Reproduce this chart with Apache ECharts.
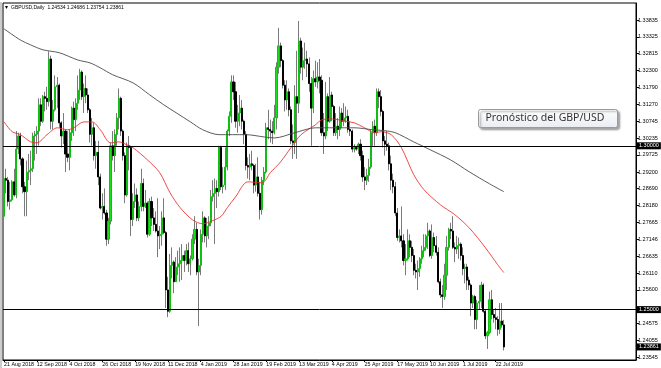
<!DOCTYPE html>
<html>
<head>
<meta charset="utf-8">
<script src="https://cdn.jsdelivr.net/npm/echarts@6/dist/echarts.min.js"></script>
<style>
html,body{margin:0;padding:0;background:#fff;}
#chart{width:661px;height:368px;}
</style>
</head>
<body>
<div id="chart"></div>
<script>
// ---- Data ----
const symbolName = 'GBPUSD,Daily';
const annotationText = 'Pronóstico del GBP/USD';
const dateLabels = ['21 Aug 2018','12 Sep 2018','4 Oct 2018','26 Oct 2018','19 Nov 2018','11 Dec 2018','4 Jan 2019','28 Jan 2019','19 Feb 2019','13 Mar 2019','4 Apr 2019','25 Apr 2019','17 May 2019','10 Jun 2019','1 Jul 2019','22 Jul 2019'];
const priceTicks = [1.33835,1.33325,1.32815,1.32300,1.31790,1.31270,1.30745,1.30235,1.29725,1.29200,1.28690,1.28180,1.27665,1.27146,1.26635,1.26110,1.25600,1.24575,1.24055,1.23545];
const levelLines = [1.30000, 1.25000];
// daily bars: [open, high, low, close]
const bars = [
[1.2785,1.2905,1.2775,1.2900],[1.2900,1.2930,1.2855,1.2895],[1.2895,1.2905,1.2815,1.2830],[1.2830,1.2890,1.2805,1.2835],
[1.2835,1.2895,1.2830,1.2890],[1.2890,1.2930,1.2845,1.2850],[1.2850,1.3045,1.2840,1.2990],[1.2990,1.3040,1.2975,1.3030],
[1.3030,1.3040,1.2940,1.2960],[1.2960,1.2965,1.2855,1.2875],[1.2875,1.2890,1.2785,1.2860],[1.2860,1.2955,1.2785,1.2920],
[1.2920,1.2975,1.2895,1.2925],[1.2925,1.2985,1.2880,1.2930],[1.2930,1.3040,1.2920,1.3030],[1.3030,1.3045,1.2955,1.3035],
[1.3035,1.3060,1.2975,1.3045],[1.3045,1.3145,1.3000,1.3125],[1.3125,1.3145,1.3060,1.3075],[1.3075,1.3155,1.3070,1.3150],
[1.3150,1.3165,1.3105,1.3145],[1.3145,1.3180,1.3110,1.3135],[1.3135,1.3288,1.3120,1.3265],[1.3265,1.3275,1.3050,1.3075],
[1.3075,1.3140,1.3050,1.3110],[1.3110,1.3215,1.3105,1.3180],[1.3180,1.3210,1.3115,1.3185],[1.3185,1.3190,1.3055,1.3070],
[1.3070,1.3075,1.2995,1.3030],[1.3030,1.3100,1.3005,1.3045],[1.3045,1.3050,1.2920,1.2975],[1.2975,1.3045,1.2950,1.2965],
[1.2965,1.3050,1.2925,1.3040],[1.3040,1.3120,1.3015,1.3115],[1.3115,1.3135,1.3030,1.3080],[1.3080,1.3145,1.3045,1.3130],
[1.3130,1.3215,1.3110,1.3170],[1.3170,1.3235,1.3140,1.3225],[1.3225,1.3230,1.3140,1.3150],[1.3150,1.3190,1.3100,1.3175],
[1.3175,1.3215,1.3130,1.3155],[1.3155,1.3175,1.3100,1.3110],[1.3110,1.3115,1.3010,1.3035],[1.3035,1.3085,1.3000,1.3055],
[1.3055,1.3070,1.2955,1.2970],[1.2970,1.3015,1.2930,1.2980],[1.2980,1.3015,1.2880,1.2905],[1.2905,1.2915,1.2805,1.2810],
[1.2810,1.2855,1.2775,1.2815],[1.2815,1.2870,1.2790,1.2795],[1.2795,1.2805,1.2695,1.2715],[1.2715,1.2780,1.2700,1.2770],
[1.2770,1.3010,1.2760,1.3000],[1.3000,1.3045,1.2955,1.2970],[1.2970,1.3050,1.2920,1.3035],[1.3035,1.3100,1.3000,1.3085],
[1.3085,1.3175,1.3050,1.3145],[1.3145,1.3150,1.3030,1.3045],[1.3045,1.3050,1.2955,1.2970],[1.2970,1.2980,1.2825,1.2850],
[1.2850,1.3010,1.2845,1.3000],[1.3000,1.3030,1.2925,1.2995],[1.2995,1.3000,1.2725,1.2775],[1.2775,1.2855,1.2755,1.2830],
[1.2830,1.2885,1.2810,1.2850],[1.2850,1.2870,1.2770,1.2780],[1.2780,1.2830,1.2770,1.2815],[1.2815,1.2930,1.2800,1.2885],
[1.2885,1.2900,1.2800,1.2815],[1.2815,1.2865,1.2810,1.2825],[1.2825,1.2830,1.2720,1.2730],[1.2730,1.2840,1.2725,1.2830],
[1.2830,1.2845,1.2755,1.2780],[1.2780,1.2810,1.2740,1.2760],[1.2760,1.2800,1.2735,1.2740],[1.2740,1.2840,1.2660,1.2725],
[1.2725,1.2755,1.2685,1.2730],[1.2730,1.2800,1.2695,1.2780],[1.2780,1.2840,1.2730,1.2735],[1.2735,1.2740,1.2505,1.2560],
[1.2560,1.2600,1.2477,1.2495],[1.2495,1.2670,1.2490,1.2635],[1.2635,1.2690,1.2595,1.2645],[1.2645,1.2650,1.2550,1.2585],
[1.2585,1.2660,1.2585,1.2630],[1.2630,1.2680,1.2605,1.2640],[1.2640,1.2690,1.2585,1.2650],[1.2650,1.2700,1.2590,1.2665],
[1.2665,1.2680,1.2615,1.2650],[1.2650,1.2700,1.2635,1.2680],[1.2680,1.2705,1.2615,1.2640],[1.2640,1.2665,1.2605,1.2655],
[1.2655,1.2730,1.2650,1.2715],[1.2715,1.2785,1.2700,1.2745],[1.2745,1.2765,1.2605,1.2615],[1.2615,1.2655,1.2450,1.2635],
[1.2635,1.2745,1.2605,1.2730],[1.2730,1.2800,1.2705,1.2780],[1.2780,1.2785,1.2705,1.2725],[1.2725,1.2780,1.2690,1.2755],
[1.2755,1.2785,1.2715,1.2765],[1.2765,1.2865,1.2755,1.2845],[1.2845,1.2895,1.2830,1.2855],[1.2855,1.2900,1.2700,1.2870],
[1.2870,1.2895,1.2810,1.2860],[1.2860,1.3000,1.2845,1.2995],[1.2995,1.3000,1.2865,1.2875],[1.2875,1.2935,1.2855,1.2880],
[1.2880,1.2995,1.2865,1.2935],[1.2935,1.3050,1.2925,1.3045],[1.3045,1.3105,1.3030,1.3090],[1.3090,1.3215,1.3070,1.3195],
[1.3195,1.3215,1.3140,1.3165],[1.3165,1.3195,1.3055,1.3075],[1.3075,1.3125,1.3040,1.3100],[1.3100,1.3155,1.3060,1.3115],
[1.3115,1.3140,1.3050,1.3075],[1.3075,1.3080,1.3005,1.3035],[1.3035,1.3045,1.2925,1.2940],[1.2940,1.2965,1.2900,1.2935],
[1.2935,1.2975,1.2895,1.2945],[1.2945,1.2985,1.2925,1.2940],[1.2940,1.2945,1.2855,1.2880],[1.2880,1.2945,1.2860,1.2905],
[1.2905,1.2965,1.2845,1.2855],[1.2855,1.2890,1.2775,1.2805],[1.2805,1.2905,1.2790,1.2895],[1.2895,1.2935,1.2880,1.2920],
[1.2920,1.3070,1.2915,1.3055],[1.3055,1.3110,1.3020,1.3050],[1.3050,1.3080,1.3010,1.3045],[1.3045,1.3075,1.3005,1.3040],
[1.3040,1.3125,1.3035,1.3085],[1.3085,1.3255,1.3050,1.3240],[1.3240,1.3360,1.3220,1.3305],[1.3305,1.3315,1.3240,1.3260],
[1.3260,1.3265,1.3175,1.3185],[1.3185,1.3200,1.3105,1.3140],[1.3140,1.3200,1.3110,1.3165],[1.3165,1.3175,1.3090,1.3110],
[1.3110,1.3120,1.3005,1.3015],[1.3015,1.3065,1.2960,1.3010],[1.3010,1.3185,1.2975,1.3150],[1.3150,1.3290,1.2960,1.3130],
[1.3130,1.3381,1.3100,1.3320],[1.3320,1.3330,1.3220,1.3240],[1.3240,1.3300,1.3200,1.3260],[1.3260,1.3315,1.3235,1.3265],
[1.3265,1.3290,1.3210,1.3250],[1.3250,1.3270,1.3165,1.3190],[1.3190,1.3210,1.3000,1.3115],[1.3115,1.3230,1.3100,1.3205],
[1.3205,1.3260,1.3180,1.3195],[1.3195,1.3255,1.3175,1.3210],[1.3210,1.3265,1.3160,1.3200],[1.3200,1.3215,1.3030,1.3040],
[1.3040,1.3100,1.2975,1.3030],[1.3030,1.3195,1.3020,1.3150],[1.3150,1.3160,1.3045,1.3075],[1.3075,1.3210,1.3070,1.3155],
[1.3155,1.3165,1.3075,1.3120],[1.3120,1.3125,1.3030,1.3040],[1.3040,1.3100,1.3030,1.3060],[1.3060,1.3085,1.3020,1.3050],
[1.3050,1.3120,1.3030,1.3100],[1.3100,1.3115,1.3055,1.3075],[1.3075,1.3130,1.3060,1.3085],[1.3085,1.3120,1.3070,1.3090],
[1.3090,1.3110,1.3040,1.3050],[1.3050,1.3075,1.3030,1.3045],[1.3045,1.3050,1.2980,1.2990],[1.2990,1.3005,1.2980,1.2995],
[1.2995,1.3000,1.2985,1.2990],[1.2990,1.3010,1.2975,1.3005],[1.3005,1.3020,1.2955,1.2970],[1.2970,1.2985,1.2890,1.2905],
[1.2905,1.2935,1.2865,1.2895],[1.2895,1.2930,1.2880,1.2910],[1.2910,1.2960,1.2890,1.2935],[1.2935,1.3050,1.2930,1.3040],
[1.3040,1.3075,1.3000,1.3060],[1.3060,1.3080,1.3000,1.3040],[1.3040,1.3175,1.3030,1.3165],[1.3165,1.3175,1.3115,1.3150],
[1.3150,1.3170,1.3090,1.3105],[1.3105,1.3110,1.2995,1.3015],[1.3015,1.3030,1.2970,1.3005],[1.3005,1.3045,1.2985,1.3000],
[1.3000,1.3010,1.2925,1.2945],[1.2945,1.2970,1.2865,1.2895],[1.2895,1.2915,1.2855,1.2875],[1.2875,1.2890,1.2785,1.2795],
[1.2795,1.2810,1.2710,1.2720],[1.2720,1.2745,1.2705,1.2725],[1.2725,1.2815,1.2690,1.2710],[1.2710,1.2730,1.2635,1.2650],
[1.2650,1.2700,1.2605,1.2655],[1.2655,1.2745,1.2650,1.2710],[1.2710,1.2730,1.2660,1.2690],[1.2690,1.2710,1.2645,1.2665],
[1.2665,1.2685,1.2605,1.2620],[1.2620,1.2640,1.2595,1.2615],[1.2615,1.2650,1.2560,1.2625],[1.2625,1.2660,1.2600,1.2655],
[1.2655,1.2695,1.2640,1.2680],[1.2680,1.2730,1.2660,1.2690],[1.2690,1.2730,1.2680,1.2725],[1.2725,1.2765,1.2685,1.2740],
[1.2740,1.2745,1.2660,1.2665],[1.2665,1.2760,1.2655,1.2720],[1.2720,1.2735,1.2675,1.2695],[1.2695,1.2725,1.2665,1.2675],
[1.2675,1.2690,1.2580,1.2585],[1.2585,1.2595,1.2535,1.2545],[1.2545,1.2575,1.2505,1.2540],[1.2540,1.2640,1.2530,1.2605],
[1.2605,1.2725,1.2560,1.2690],[1.2690,1.2750,1.2680,1.2745],[1.2745,1.2765,1.2715,1.2740],[1.2740,1.2785,1.2685,1.2690],
[1.2690,1.2705,1.2645,1.2685],[1.2685,1.2725,1.2670,1.2695],[1.2695,1.2720,1.2655,1.2700],[1.2700,1.2705,1.2650,1.2665],
[1.2665,1.2690,1.2605,1.2625],[1.2625,1.2640,1.2580,1.2630],[1.2630,1.2640,1.2560,1.2590],[1.2590,1.2600,1.2560,1.2575],
[1.2575,1.2580,1.2480,1.2520],[1.2520,1.2545,1.2505,1.2540],[1.2540,1.2545,1.2440,1.2470],[1.2470,1.2530,1.2440,1.2520],
[1.2520,1.2575,1.2500,1.2525],[1.2525,1.2585,1.2505,1.2575],[1.2575,1.2580,1.2490,1.2495],[1.2495,1.2500,1.2410,1.2420],
[1.2420,1.2435,1.2380,1.2430],[1.2430,1.2555,1.2425,1.2530],[1.2530,1.2560,1.2470,1.2485],[1.2485,1.2500,1.2460,1.2475],
[1.2475,1.2505,1.2440,1.2470],[1.2470,1.2480,1.2420,1.2440],[1.2440,1.2520,1.2425,1.2465],[1.2465,1.2520,1.2445,1.24534],
[1.24534,1.24686,1.23754,1.23861]
];
// moving averages: [bar index, price]
const redAverage = [[0,1.3073],[4,1.3043],[8,1.3034],[13,1.3012],[16,1.3009],[21,1.3034],[26,1.3055],[31,1.3049],[34,1.3055],[39,1.3073],[43,1.3073],[47,1.3049],[52,1.3009],[56,1.3012],[60,1.3003],[63,1.2994],[70,1.2957],[76,1.2918],[81,1.2857],[86,1.2811],[92,1.2774],[97,1.2762],[102,1.2772],[106,1.2785],[109,1.2811],[113,1.2844],[119,1.2890],[126,1.2887],[130,1.2918],[135,1.2951],[140,1.2994],[145,1.3034],[152,1.3064],[155,1.3079],[160,1.3082],[166,1.3076],[171,1.3070],[176,1.3055],[181,1.3040],[184,1.3043],[189,1.3034],[194,1.2994],[200,1.2912],[205,1.2866],[213,1.2820],[220,1.2790],[227,1.2750],[235,1.2689],[241,1.2637],[244,1.2613]];
const blackAverage = [[0,1.3357],[8,1.3323],[13,1.3308],[19,1.3293],[27,1.3284],[36,1.3262],[42,1.3253],[47,1.3238],[53,1.3217],[63,1.3192],[71,1.3156],[78,1.3125],[84,1.3101],[91,1.3073],[97,1.3049],[105,1.3034],[118,1.3034],[127,1.3027],[132,1.3024],[142,1.3040],[152,1.3055],[161,1.3055],[171,1.3055],[180,1.3049],[186,1.3046],[191,1.3040],[200,1.3012],[208,1.2988],[218,1.2957],[227,1.2921],[237,1.2884],[244,1.2860]];

// ---- Chart ----
const SLOTS = 309; // bars + empty right margin of the terminal
const LABEL_STEP = 16;
const categories = [];
for (let i = 0; i < SLOTS; i++) {
  const k = i / LABEL_STEP;
  categories.push(i % LABEL_STEP === 0 && k < dateLabels.length ? dateLabels[k] : '');
}
const wickData = bars.map(b => [b[0], b[3], b[2], b[1]]);
const bodyData = bars.map(b => [b[0], b[3], Math.min(b[0], b[3]), Math.max(b[0], b[3])]);
const last = bars[bars.length - 1];
const lastClose = last[3];

const chart = echarts.init(document.getElementById('chart'), null, {renderer: 'canvas'});
const axisFont = 'Liberation Sans, Arial, sans-serif';
const boxLabel = {
  show: true, position: 'end', distance: 1,
  formatter: p => (+p.value).toFixed(5),
  backgroundColor: '#000', color: '#fff', fontSize: 5.5, fontFamily: axisFont,
  padding: [1, 2, 0, 2]
};
chart.setOption({
  animation: false,
  backgroundColor: '#fff',
  grid: {left: 3, right: 25, top: 3, bottom: 8, show: true, borderColor: '#000', borderWidth: 1},
  xAxis: {
    type: 'category', data: categories, boundaryGap: true,
    axisLine: {lineStyle: {color: '#000', width: 1}},
    axisTick: {show: true, length: 2, alignWithLabel: true, interval: (i) => categories[i] !== '', lineStyle: {color: '#000'}},
    axisLabel: {interval: 0, align: 'left', fontSize: 5.3, color: '#000', margin: 2, fontFamily: axisFont},
    splitLine: {show: false}
  },
  yAxis: {
    type: 'value', position: 'right',
    min: 1.23462, max: 1.34359,
    axisLine: {show: true, lineStyle: {color: '#000'}},
    axisTick: {show: true, length: 3, customValues: priceTicks, lineStyle: {color: '#000'}},
    axisLabel: {customValues: priceTicks, formatter: v => v.toFixed(5), fontSize: 5.5, margin: 2, color: '#000', fontFamily: axisFont},
    splitLine: {show: false}
  },
  series: [
    {
      type: 'candlestick', data: wickData, barWidth: 1, silent: true, z: 2,
      itemStyle: {color: '#7a7a7a', color0: '#7a7a7a', borderColor: '#7a7a7a', borderColor0: '#7a7a7a', borderColorDoji: '#7a7a7a', borderWidth: 1}
    },
    {
      type: 'candlestick', data: bodyData, barWidth: 1.6, silent: true, z: 3,
      itemStyle: {color: '#18e018', color0: '#000', borderColor: '#10c010', borderColor0: '#000', borderColorDoji: '#000', borderWidth: 1}
    },
    {
      type: 'line', data: redAverage, smooth: 0.3, showSymbol: false, silent: true, z: 4,
      lineStyle: {color: '#f02828', width: 1, opacity: 0.85}
    },
    {
      type: 'line', data: blackAverage, smooth: 0.3, showSymbol: false, silent: true, z: 4,
      lineStyle: {color: '#4a4a4a', width: 1, opacity: 0.9}
    },
    {
      type: 'line', data: [], silent: true, z: 5,
      markLine: {
        silent: true, symbol: ['none', 'none'], animation: false, precision: 5,
        lineStyle: {color: '#000', width: 1, type: 'solid'},
        label: boxLabel,
        data: levelLines.map(v => ({yAxis: v})).concat([{yAxis: lastClose, lineStyle: {color: 'rgba(0,0,0,0)'}}])
      }
    }
  ],
  graphic: [
    {type: 'line', shape: {x1: 1, y1: 2, x2: 1, y2: 368}, style: {stroke: '#9a9a9a', lineWidth: 1}, silent: true},
    {type: 'text', left: 5, top: 4, style: {text: '▾', fontSize: 6, fill: '#000', fontFamily: 'DejaVu Sans'}, silent: true},
    {type: 'text', left: 11, top: 5, style: {text: symbolName + '  ' + last.map(v => v.toFixed(5)).join(' '), fontSize: 5, fill: '#000', fontFamily: axisFont}, silent: true},
    {
      type: 'group', left: 478, top: 109, silent: true,
      children: [
        {type: 'rect', shape: {x: 0, y: 0, width: 139, height: 18, r: 2},
          style: {
            fill: new echarts.graphic.LinearGradient(0, 0, 0, 1, [{offset: 0, color: '#ffffff'}, {offset: 1, color: '#e9ecf2'}]),
            stroke: '#9a9a9a', lineWidth: 1,
            shadowBlur: 2, shadowOffsetX: 2, shadowOffsetY: 2, shadowColor: 'rgba(0,0,0,0.35)'
          }},
        {type: 'text', x: 7, y: 3, style: {text: annotationText, fontSize: 10.5, fill: '#333', fontFamily: 'Noto Sans, Open Sans, sans-serif'}}
      ]
    }
  ]
});
</script>
</body>
</html>
